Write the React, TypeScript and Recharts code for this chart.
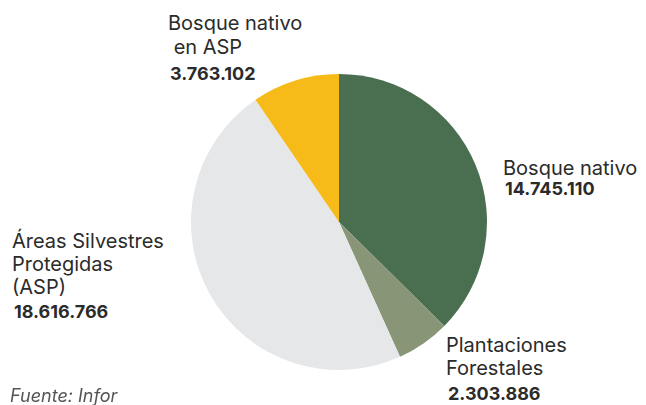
import React from "react";
import { PieChart, Pie, Cell } from "recharts";

const categories = ["Bosque nativo", "Plantaciones Forestales", "Áreas Silvestres Protegidas (ASP)", "Bosque nativo en ASP"];
const values = [14745110, 2303886, 18616766, 3763102];
const valueLabels = ["14.745.110", "2.303.886", "18.616.766", "3.763.102"];
const nameLines = [["Bosque nativo"], ["Plantaciones", "Forestales"], ["Áreas Silvestres", "Protegidas", "(ASP)"], ["Bosque nativo", " en ASP"]];
const colors = ["#4a6e50", "#889677", "#e6e7e8", "#f6bb19"];

// label layout: x, baselines of name lines, baseline of value
const labelLayout = [
  { x: 503, lines: [175], num: 195 },
  { x: 446, lines: [352, 375], num: 400 },
  { x: 12, lines: [247.5, 270.5, 293.5], num: 318 },
  { x: 168, lines: [30, 54], num: 80 },
];

const data = categories.map((c, i) => ({ name: c, value: values[i] }));

const FONT = "Inter, 'Noto Sans', sans-serif";

const renderLabel = (props: any) => {
  const i = props.index;
  const a = labelLayout[i];
  const lines = nameLines[i];
  return (
    <g key={"lbl" + i}>
      {lines.map((l, k) => (
        <text key={k} x={a.x} y={a.lines[k]} fill="#2b2b2b" fontSize={20} fontFamily={FONT} style={{ whiteSpace: "pre" }}>
          {l}
        </text>
      ))}
      <text x={a.x + 2} y={a.num} fill="#2b2b2b" fontSize={18} fontWeight={700} fontFamily={FONT}>
        {valueLabels[i]}
      </text>
    </g>
  );
};

export default function App() {
  return (
    <div style={{ position: "fixed", left: 0, top: 0, width: 646, height: 405, background: "#fff" }}>
      <PieChart width={646} height={405} margin={{ top: 0, right: 0, bottom: 0, left: 0 }}>
        <Pie
          data={data}
          dataKey="value"
          nameKey="name"
          cx={339}
          cy={222}
          outerRadius={148}
          startAngle={90}
          endAngle={-270}
          stroke="none"
          isAnimationActive={false}
          labelLine={false}
          label={renderLabel}
        >
          {data.map((d, i) => (
            <Cell key={i} fill={colors[i]} />
          ))}
        </Pie>
      </PieChart>
      <div style={{ position: "absolute", left: 10, top: 386, fontFamily: FONT, fontStyle: "italic", fontSize: 18, color: "#555", lineHeight: "20px" }}>
        Fuente: Infor
      </div>
    </div>
  );
}
